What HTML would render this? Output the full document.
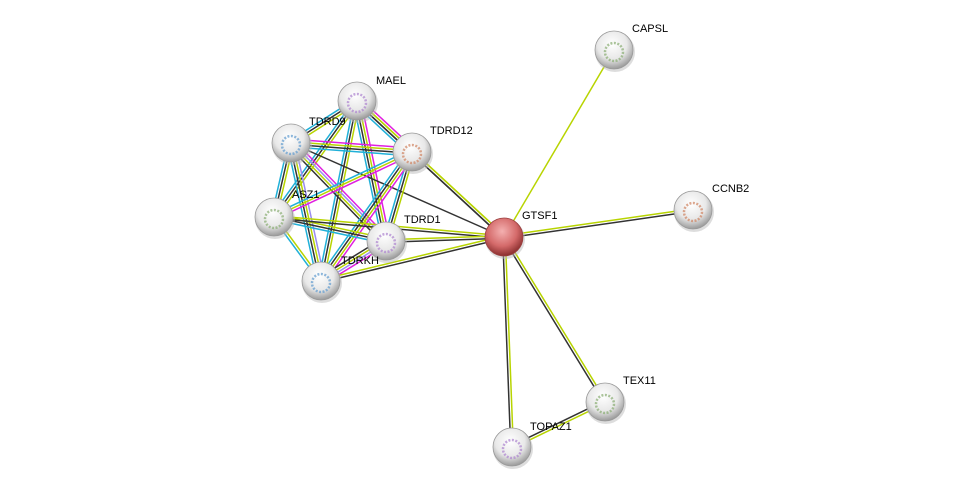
<!DOCTYPE html>
<html><head><meta charset="utf-8"><style>
html,body{margin:0;padding:0;background:#fff;}
svg{display:block;}
text{font-family:"Liberation Sans",sans-serif;font-size:11px;fill:#000;}
</style></head><body>
<svg id="s" width="975" height="493" viewBox="0 0 975 493" xmlns="http://www.w3.org/2000/svg">
<defs>
<radialGradient id="g" cx="45%" cy="35%" r="65%">
<stop offset="0" stop-color="#ffffff"/><stop offset="0.6" stop-color="#e8e8e8"/><stop offset="1" stop-color="#9a9a9a"/>
</radialGradient>
<radialGradient id="r" cx="45%" cy="35%" r="65%">
<stop offset="0" stop-color="#f4b0b0"/><stop offset="0.6" stop-color="#d46a6a"/><stop offset="1" stop-color="#8a2e2e"/>
</radialGradient>
</defs>
<g id="edges"></g>
<g id="nodes"></g>
</svg>
<script>
var N={CAPSL:[614,50],MAEL:[357,101],TDRD9:[291,143],TDRD12:[412,152],ASZ1:[274,217],TDRD1:[386,241],TDRKH:[321,281],GTSF1:[504,237],CCNB2:[693,210],TEX11:[605,402],TOPAZ1:[512,447]};
var Y="#b8d400",K="#333",C="#20b0d8",M="#e020e0",L="#9a8cf0";
var E=[
["MAEL","TDRD9",[Y,K,C]],["MAEL","TDRD12",[M,Y,K,C]],["MAEL","ASZ1",[Y,K,C]],["MAEL","TDRD1",[M,Y,K,C]],["MAEL","TDRKH",[Y,K,C]],["MAEL","GTSF1",[Y,K]],
["TDRD9","TDRD12",[M,Y,K,C]],["TDRD9","ASZ1",[Y,K,C]],["TDRD9","TDRD1",[M,L,Y,K]],["TDRD9","TDRKH",[L,Y,K,C]],["TDRD9","GTSF1",[K]],
["TDRD12","ASZ1",[M,Y,C]],["TDRD12","TDRD1",[Y,K,C]],["TDRD12","TDRKH",[M,Y,K,C]],["TDRD12","GTSF1",[Y,K]],
["ASZ1","TDRD1",[Y,K,C]],["ASZ1","TDRKH",[Y,C]],["ASZ1","GTSF1",[Y,K]],
["TDRD1","TDRKH",[M,L,Y,K]],["TDRD1","GTSF1",[Y,K]],["TDRKH","GTSF1",[Y,K]],
["GTSF1","CAPSL",[Y]],["GTSF1","CCNB2",[Y,K]],["GTSF1","TEX11",[Y,K]],["GTSF1","TOPAZ1",[Y,K]],["TEX11","TOPAZ1",[Y,K]]
];
var ns="http://www.w3.org/2000/svg",eg=document.getElementById("edges"),ng=document.getElementById("nodes");
E.forEach(function(e){var a=N[e[0]],b=N[e[1]],dx=b[0]-a[0],dy=b[1]-a[1],l=Math.hypot(dx,dy),px=-dy/l,py=dx/l,n=e[2].length;
e[2].forEach(function(c,i){var o=(i-(n-1)/2)*2.6;var ln=document.createElementNS(ns,"line");
ln.setAttribute("x1",a[0]+px*o);ln.setAttribute("y1",a[1]+py*o);ln.setAttribute("x2",b[0]+px*o);ln.setAttribute("y2",b[1]+py*o);
ln.setAttribute("stroke",c);ln.setAttribute("stroke-width","1.5");eg.appendChild(ln);});});
var lab={CAPSL:[632,32],MAEL:[376,84],TDRD9:[309,125],TDRD12:[430,134],ASZ1:[292,198],TDRD1:[404,223],TDRKH:[341,264],GTSF1:[522,219],CCNB2:[712,192],TEX11:[623,384],TOPAZ1:[530,430]};
var cols=["#8fb07a","#b08ad0","#6aa0d0","#d08a6a"];var ci=0;
for(var k in N){var p=N[k];var s=document.createElementNS(ns,"circle");s.setAttribute("cx",p[0]+1);s.setAttribute("cy",p[1]+2);s.setAttribute("r",20);s.setAttribute("fill","#bbb");s.setAttribute("opacity","0.5");ng.appendChild(s);
var c=document.createElementNS(ns,"circle");c.setAttribute("cx",p[0]);c.setAttribute("cy",p[1]);c.setAttribute("r",19);c.setAttribute("fill",k=="GTSF1"?"url(#r)":"url(#g)");c.setAttribute("stroke",k=="GTSF1"?"#9a4040":"#999");c.setAttribute("stroke-width","0.8");ng.appendChild(c);
if(k!="GTSF1"){var d=document.createElementNS(ns,"circle");d.setAttribute("cx",p[0]);d.setAttribute("cy",p[1]+2);d.setAttribute("r",9);d.setAttribute("fill","none");d.setAttribute("stroke",cols[ci++%4]);d.setAttribute("stroke-width","2.5");d.setAttribute("stroke-dasharray","2 1.5");d.setAttribute("opacity","0.75");ng.appendChild(d);}
var t=document.createElementNS(ns,"text");t.setAttribute("x",lab[k][0]);t.setAttribute("y",lab[k][1]);t.textContent=k;ng.appendChild(t);}
</script>
</body></html>
